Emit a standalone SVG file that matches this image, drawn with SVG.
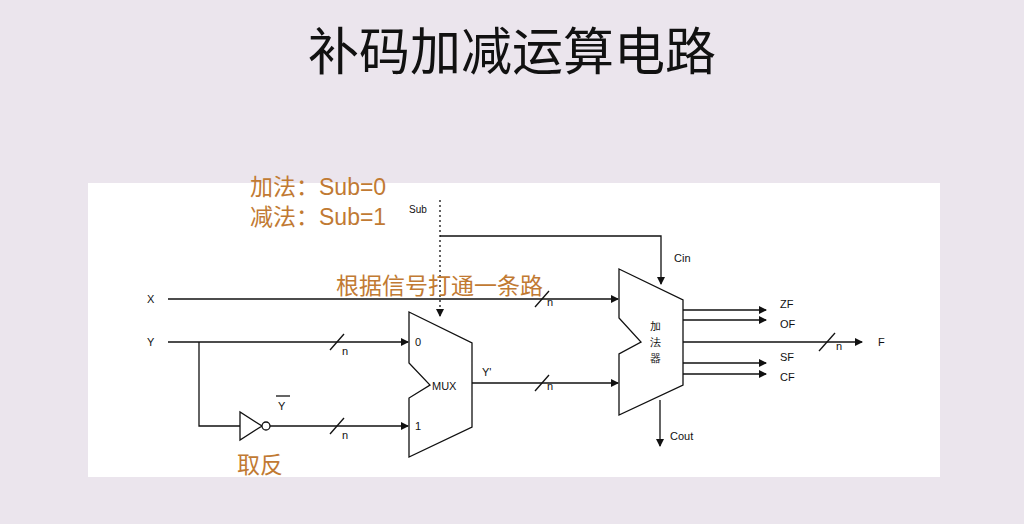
<svg xmlns="http://www.w3.org/2000/svg" width="1024" height="524" viewBox="0 0 1024 524">
<defs>
<marker id="a" markerWidth="8" markerHeight="8" refX="7" refY="4" orient="auto" markerUnits="userSpaceOnUse"><path d="M0,0 L8,4 L0,8 Z" fill="#111"/></marker>
<style>
.l{stroke:#111;stroke-width:1.3;fill:none}
.s{fill:#fff;stroke:#111;stroke-width:1.3}
.t{font-family:"Liberation Sans",Arial,sans-serif;font-size:11px;fill:#111}
.o{font-family:"Liberation Sans","Noto Sans CJK SC",sans-serif;font-size:23px;fill:#c17a33}
</style>
</defs>
<rect width="1024" height="524" fill="#ebe5ed"/>
<rect x="88" y="183" width="852" height="294" fill="#fff"/>
<text x="512" y="70" text-anchor="middle" font-family="Noto Sans CJK SC,sans-serif" font-size="51" fill="#111">补码加减运算电路</text>
<g id="connectors">
<line class="l" x1="168" y1="299" x2="618" y2="299" marker-end="url(#a)"/>
<line class="l" x1="168" y1="342" x2="408" y2="342" marker-end="url(#a)"/>
<polyline class="l" points="199,342 199,426 240,426"/>
<line class="l" x1="270" y1="426" x2="408" y2="426" marker-end="url(#a)"/>
<line class="l" x1="472" y1="383" x2="618" y2="383" marker-end="url(#a)"/>
<line class="l" x1="440" y1="200" x2="440" y2="316" stroke-dasharray="2,3" marker-end="url(#a)"/>
<polyline class="l" points="440,236 661,236 661,284" marker-end="url(#a)"/>
<line class="l" x1="660" y1="400" x2="660" y2="446" marker-end="url(#a)"/>
<line class="l" x1="683" y1="310" x2="766" y2="310" marker-end="url(#a)"/>
<line class="l" x1="683" y1="320" x2="766" y2="320" marker-end="url(#a)"/>
<line class="l" x1="683" y1="342" x2="862" y2="342" marker-end="url(#a)"/>
<line class="l" x1="683" y1="363" x2="766" y2="363" marker-end="url(#a)"/>
<line class="l" x1="683" y1="374" x2="766" y2="374" marker-end="url(#a)"/>
<g class="l">
<line x1="330" y1="350" x2="344" y2="334"/><line x1="330" y1="434" x2="344" y2="418"/>
<line x1="535" y1="307" x2="549" y2="291"/><line x1="535" y1="391" x2="549" y2="375"/>
<line x1="819" y1="351" x2="835" y2="333"/>
</g>
</g>
<g class="t">
<text x="342" y="355">n</text><text x="342" y="439">n</text>
<text x="547" y="306">n</text><text x="547" y="390">n</text>
<text x="836" y="350">n</text>
<text x="147" y="303">X</text><text x="147" y="346">Y</text>
<text x="409" y="213" font-size="10">Sub</text>
<text x="482" y="376">Y'</text>
<text x="674" y="262">Cin</text><text x="670" y="440">Cout</text>
<text x="780" y="308">ZF</text><text x="780" y="328">OF</text>
<text x="780" y="361">SF</text><text x="780" y="381">CF</text>
<text x="878" y="346">F</text>
</g>
<g id="mux">
<polygon class="s" points="409,312 472,343 472,427 409,457 409,398 430,385 409,363"/>
<text class="t" x="415" y="346">0</text><text class="t" x="415" y="430">1</text>
<text class="t" x="432" y="390">MUX</text>
</g>
<g id="adder">
<polygon class="s" points="619,269 683,300 683,385 619,415 619,354 641,342 619,318"/>
<text class="t" x="655" y="330" font-family="Noto Sans CJK SC,sans-serif" text-anchor="middle">加</text>
<text class="t" x="655" y="346" font-family="Noto Sans CJK SC,sans-serif" text-anchor="middle">法</text>
<text class="t" x="655" y="362" font-family="Noto Sans CJK SC,sans-serif" text-anchor="middle">器</text>
</g>
<g id="inverter">
<polygon class="s" points="240,412 240,440 262,426"/>
<circle class="s" cx="266" cy="426" r="4"/>
<text class="t" x="278" y="410">Y</text>
<line class="l" x1="276" y1="396" x2="290" y2="396"/>
</g>
<g id="notes">
<text class="o" x="250" y="195">加法：Sub=0</text>
<text class="o" x="250" y="225">减法：Sub=1</text>
<text class="o" x="336" y="294">根据信号打通一条路</text>
<text class="o" x="237" y="473">取反</text>
</g>
</svg>
